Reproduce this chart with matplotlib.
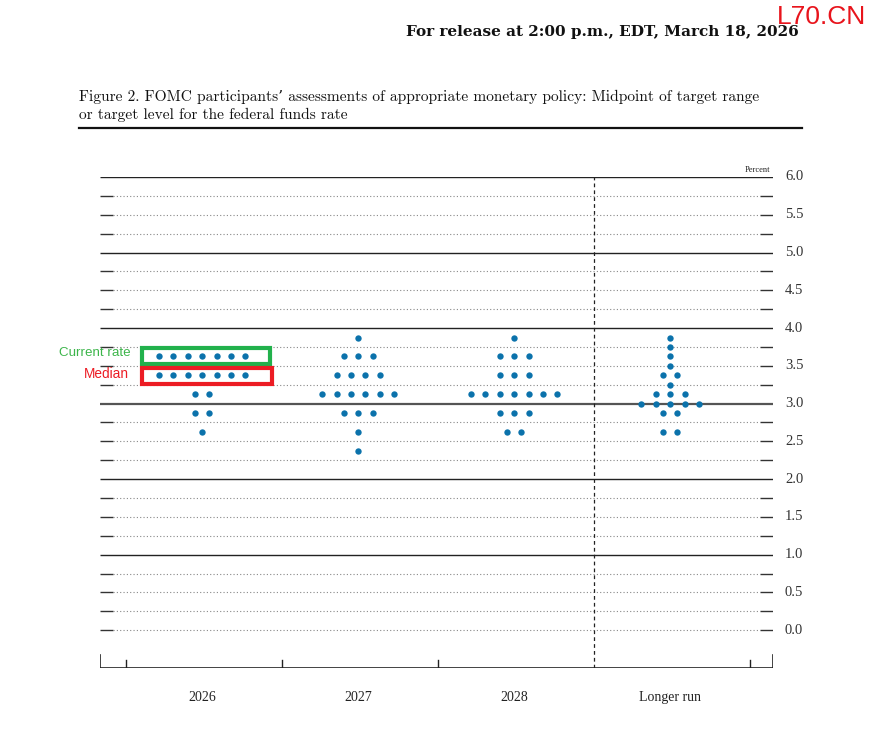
import matplotlib
matplotlib.use("Agg")
import matplotlib.pyplot as plt
from matplotlib.patches import Rectangle
import numpy as np

# ---- data ----
categories = ["2026", "2027", "2028", "Longer run"]
levels_2026 = [3.625, 3.375, 3.125, 2.875, 2.625]
counts_2026 = [7, 7, 2, 2, 1]
levels_2027 = [3.875, 3.625, 3.375, 3.125, 2.875, 2.625, 2.375]
counts_2027 = [1, 3, 4, 6, 3, 1, 1]
levels_2028 = [3.875, 3.625, 3.375, 3.125, 2.875, 2.625]
counts_2028 = [1, 3, 3, 7, 3, 2]
levels_lr = [3.875, 3.75, 3.625, 3.5, 3.375, 3.25, 3.125, 3.0, 2.875, 2.625]
counts_lr = [1, 1, 1, 1, 2, 1, 3, 5, 2, 2]
ytick_values = [0.0, 0.5, 1.0, 1.5, 2.0, 2.5, 3.0, 3.5, 4.0, 4.5, 5.0, 5.5, 6.0]
current_rate = 3.625
median_2026 = 3.375

series = [(levels_2026, counts_2026), (levels_2027, counts_2027),
          (levels_2028, counts_2028), (levels_lr, counts_lr)]

W, H = 870, 745
fig = plt.figure(figsize=(W / 100, H / 100), dpi=100)

# axes placed in pixel geometry
ax_l, ax_r, ax_t, ax_b = 100, 773, 177, 668
ax = fig.add_axes([ax_l / W, 1 - ax_b / H, (ax_r - ax_l) / W, (ax_b - ax_t) / H])
xmin, xmax = -0.655, 3.659
ymin, ymax = -0.5, 6.0
ax.set_xlim(xmin, xmax)
ax.set_ylim(ymin, ymax)
ax.axis("off")

px_per_x = (ax_r - ax_l) / (xmax - xmin)
dash = 12.5 / px_per_x
shift = 1.5 / px_per_x

# horizontal grid lines
for yv in np.arange(0, 6.01, 0.25):
    if abs(yv - round(yv)) < 1e-9 and yv > 0:
        lw = 1.6 if abs(yv - 3.0) < 1e-9 else 1.0
        col = "#555555" if abs(yv - 3.0) < 1e-9 else "#222222"
        ax.plot([xmin, xmax], [yv, yv], color=col, lw=lw, solid_capstyle="butt")
    else:
        ax.plot([xmin, xmin + dash], [yv, yv], color="#333333", lw=1.0, solid_capstyle="butt")
        ax.plot([xmax - dash, xmax], [yv, yv], color="#333333", lw=1.0, solid_capstyle="butt")
        ax.plot([xmin + dash, xmax - dash], [yv, yv], color="#888888", lw=0.8,
                linestyle=(0, (1, 2)))

# right-hand labels
for yv in ytick_values:
    ax.text(xmax + 12 / px_per_x, yv, f"{yv:.1f}", ha="left", va="center",
            fontsize=10.5, family="Liberation Serif", color="#333333")
ax.text(xmax - 3 / px_per_x, 6.0 + 0.04, "Percent", ha="right", va="bottom",
        fontsize=6, family="Liberation Serif", color="#222222")

# bottom axis
ax.plot([xmin, xmax], [ymin, ymin], color="#222222", lw=1.2, solid_capstyle="butt")
tick_h_big = 13 / 75.5
tick_h_small = 8 / 75.5
for xv in [xmin, xmax]:
    ax.plot([xv, xv], [ymin, ymin + tick_h_big], color="#222222", lw=1.2)
for xv in [-0.5, 0.5, 1.5, 3.5]:
    ax.plot([xv + shift, xv + shift], [ymin, ymin + tick_h_small], color="#222222", lw=1.0)
ax.plot([2.5 + shift, 2.5 + shift], [ymin, 6.0], color="#222222", lw=0.9,
        linestyle=(0, (3, 2.5)))

# category labels
for i, c in enumerate(categories):
    ax.text(i, ymin - 29 / 75.5, c, ha="center", va="center", fontsize=10,
            family="Liberation Serif", color="#222222")

# dots
dx = 14.4 / px_per_x
for i, (lv, cn) in enumerate(series):
    for yv, n in zip(lv, cn):
        xs = i + (np.arange(n) - (n - 1) / 2) * dx
        ax.scatter(xs, [yv] * n, s=21, color="#0b72ab", zorder=5, linewidths=0)

# annotation boxes
def box(yc, x0px, x1px, color):
    x0 = xmin + (x0px - ax_l) / px_per_x
    x1 = xmin + (x1px - ax_l) / px_per_x
    h = 16 / 75.5
    ax.add_patch(Rectangle((x0, yc - h / 2), x1 - x0, h, fill=False,
                           edgecolor=color, lw=3, zorder=6, clip_on=False))

box(current_rate + 0.01, 142, 270, "#22b14c")
box(median_2026 - 0.01, 142, 272, "#ec1c24")
fig.text(95 / W, 1 - 353 / H, "Current rate", ha="center", va="center",
         fontsize=9.6, color="#3cb54a", family="Liberation Sans")
fig.text(106 / W, 1 - 374 / H, "Median", ha="center", va="center",
         fontsize=9.8, color="#ec1c24", family="Liberation Sans")

# header texts
fig.text(799 / W, 1 - 32 / H, "For release at 2:00 p.m., EDT, March 18, 2026",
         ha="right", va="center", fontsize=11, fontweight="bold",
         family="DejaVu Serif", color="#111111")
fig.text(866 / W, 1 - 17 / H, "L70.CN", ha="right", va="center", fontsize=19,
         color="#e8141c", family="Liberation Sans")
fig.text(79 / W, 1 - 97 / H,
         "Figure 2. FOMC participants\u2019 assessments of appropriate monetary policy: Midpoint of target range",
         ha="left", va="center", fontsize=11.1, family=["cmr10", "DejaVu Serif"], color="#111111")
fig.text(79 / W, 1 - 115 / H, "or target level for the federal funds rate",
         ha="left", va="center", fontsize=11.1, family=["cmr10", "DejaVu Serif"], color="#111111")
fig.add_artist(plt.Line2D([79 / W, 802 / W], [1 - 128 / H, 1 - 128 / H],
                          color="#111111", lw=1.6))

fig.savefig("out.png", dpi=100, facecolor="white")
